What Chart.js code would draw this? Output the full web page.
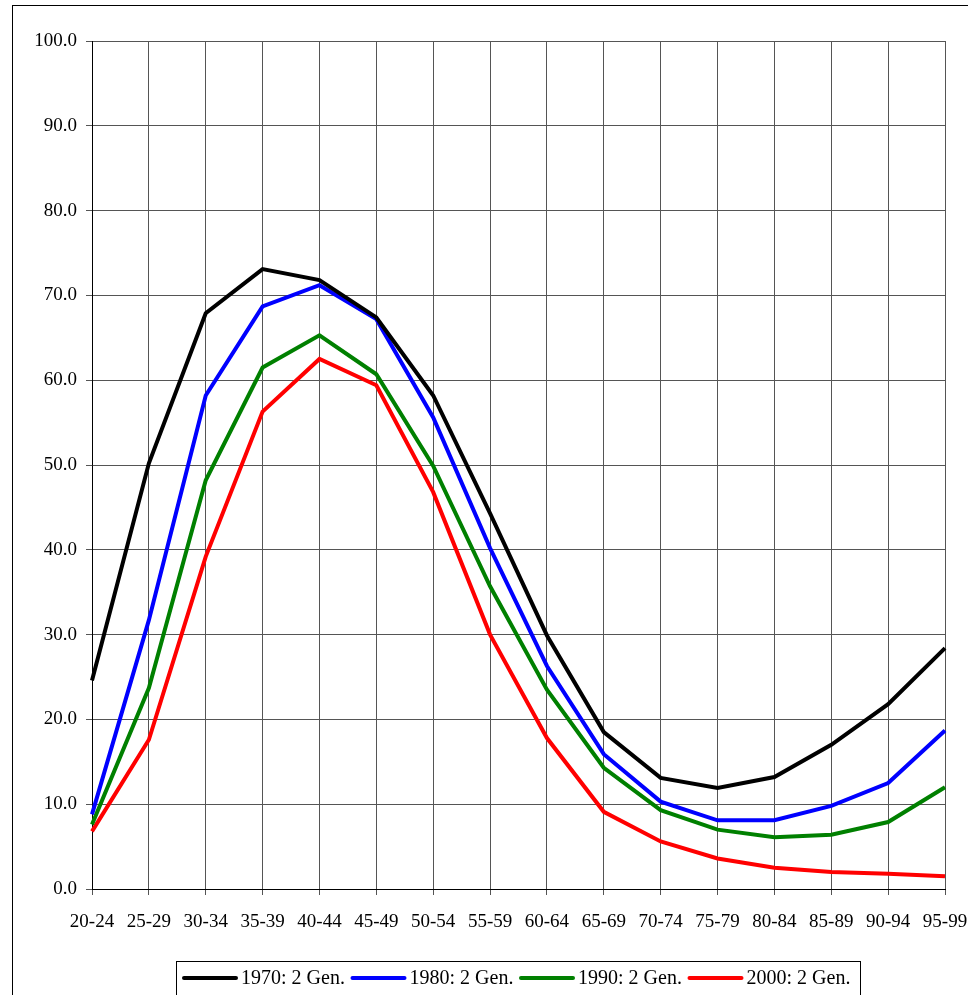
<!DOCTYPE html>
<html>
<head>
<meta charset="utf-8">
<script src="https://cdn.jsdelivr.net/npm/chart.js@4.4.1/dist/chart.umd.min.js"></script>
<style>
html,body{margin:0;padding:0;background:#fff;}
canvas{display:block;}
</style>
</head>
<body>
<canvas id="c" width="968" height="995"></canvas>
<script>
const categories = ['20-24','25-29','30-34','35-39','40-44','45-49','50-54','55-59','60-64','65-69','70-74','75-79','80-84','85-89','90-94','95-99'];
const seriesNames = ['1970: 2 Gen.','1980: 2 Gen.','1990: 2 Gen.','2000: 2 Gen.'];
const values1970 = [24.6,50.2,67.9,73.1,71.8,67.4,58.2,44.3,29.9,18.5,13.1,11.9,13.2,17.0,21.8,28.4];
const values1980 = [8.8,31.7,58.2,68.7,71.2,67.2,55.6,40.2,26.3,15.9,10.3,8.1,8.1,9.8,12.5,18.7];
const values1990 = [7.6,23.7,48.2,61.5,65.3,60.7,49.9,35.7,23.5,14.3,9.3,7.0,6.1,6.4,7.9,12.0];
const values2000 = [6.8,17.6,39.2,56.3,62.5,59.4,46.8,30.0,17.8,9.1,5.6,3.6,2.5,2.0,1.8,1.5];
const yTicks = [0,10,20,30,40,50,60,70,80,90,100];

const FONT = {family:'"Liberation Serif", "Times New Roman", serif', size:19};
const GRID = '#555555';

const frameAndLegend = {
  id:'frameAndLegend',
  beforeDraw(chart){
    const ctx = chart.ctx;
    ctx.save();
    ctx.fillStyle = '#fff';
    ctx.fillRect(0,0,chart.width,chart.height);
    ctx.strokeStyle = '#000';
    ctx.lineWidth = 1;
    ctx.strokeRect(12.5,5.5,1200,1200);
    ctx.restore();
  },
  afterDraw(chart){
    const ctx = chart.ctx;
    ctx.save();
    ctx.strokeStyle = '#000';
    ctx.lineWidth = 1;
    ctx.strokeRect(176.5,961.5,684,60);
    ctx.font = '20px ' + FONT.family;
    ctx.textBaseline = 'middle';
    ctx.textAlign = 'left';
    const y = 978;
    chart.data.datasets.forEach((ds,i)=>{
      const x = 182 + i*168.5;
      ctx.strokeStyle = ds.borderColor;
      ctx.lineWidth = 4;
      ctx.lineCap = 'round';
      ctx.beginPath();
      ctx.moveTo(x+2,y);
      ctx.lineTo(x+54,y);
      ctx.stroke();
      ctx.fillStyle = '#000';
      ctx.fillText(ds.label, x+59, y+1);
    });
    ctx.restore();
  }
};

const colors = ['#000000','#0000FF','#008000','#FF0000'];
const allValues = [values1970,values1980,values1990,values2000];

new Chart(document.getElementById('c'),{
  type:'line',
  data:{
    labels:categories,
    datasets:allValues.map((v,i)=>({
      label:seriesNames[i],
      data:v,
      borderColor:colors[i],
      backgroundColor:colors[i],
      borderWidth:4,
      pointRadius:0,
      tension:0,
      fill:false
    }))
  },
  options:{
    responsive:false,
    devicePixelRatio:1,
    animation:false,
    layout:{padding:{left:0,top:41,right:23,bottom:0}},
    plugins:{legend:{display:false},tooltip:{enabled:false}},
    scales:{
      x:{
        type:'category',
        offset:false,
        grid:{color:GRID,lineWidth:1,tickLength:6,drawTicks:true},
        border:{color:'#000',width:1},
        ticks:{font:FONT,color:'#000',padding:16,maxRotation:0,minRotation:0,autoSkip:false},
        afterFit(s){ s.height = 106; s.paddingLeft = 0; s.paddingRight = 0; }
      },
      y:{
        min:0,max:100,
        afterBuildTicks(s){ s.ticks = yTicks.map(v=>({value:v})); },
        grid:{color:GRID,lineWidth:1,tickLength:6,drawTicks:true},
        border:{color:'#000',width:1},
        ticks:{font:FONT,color:'#000',padding:9,callback:v=>Number(v).toFixed(1)},
        afterFit(s){ s.width = 92; s.paddingTop = 0; s.paddingBottom = 0; }
      }
    }
  },
  plugins:[frameAndLegend]
});
</script>
</body>
</html>
